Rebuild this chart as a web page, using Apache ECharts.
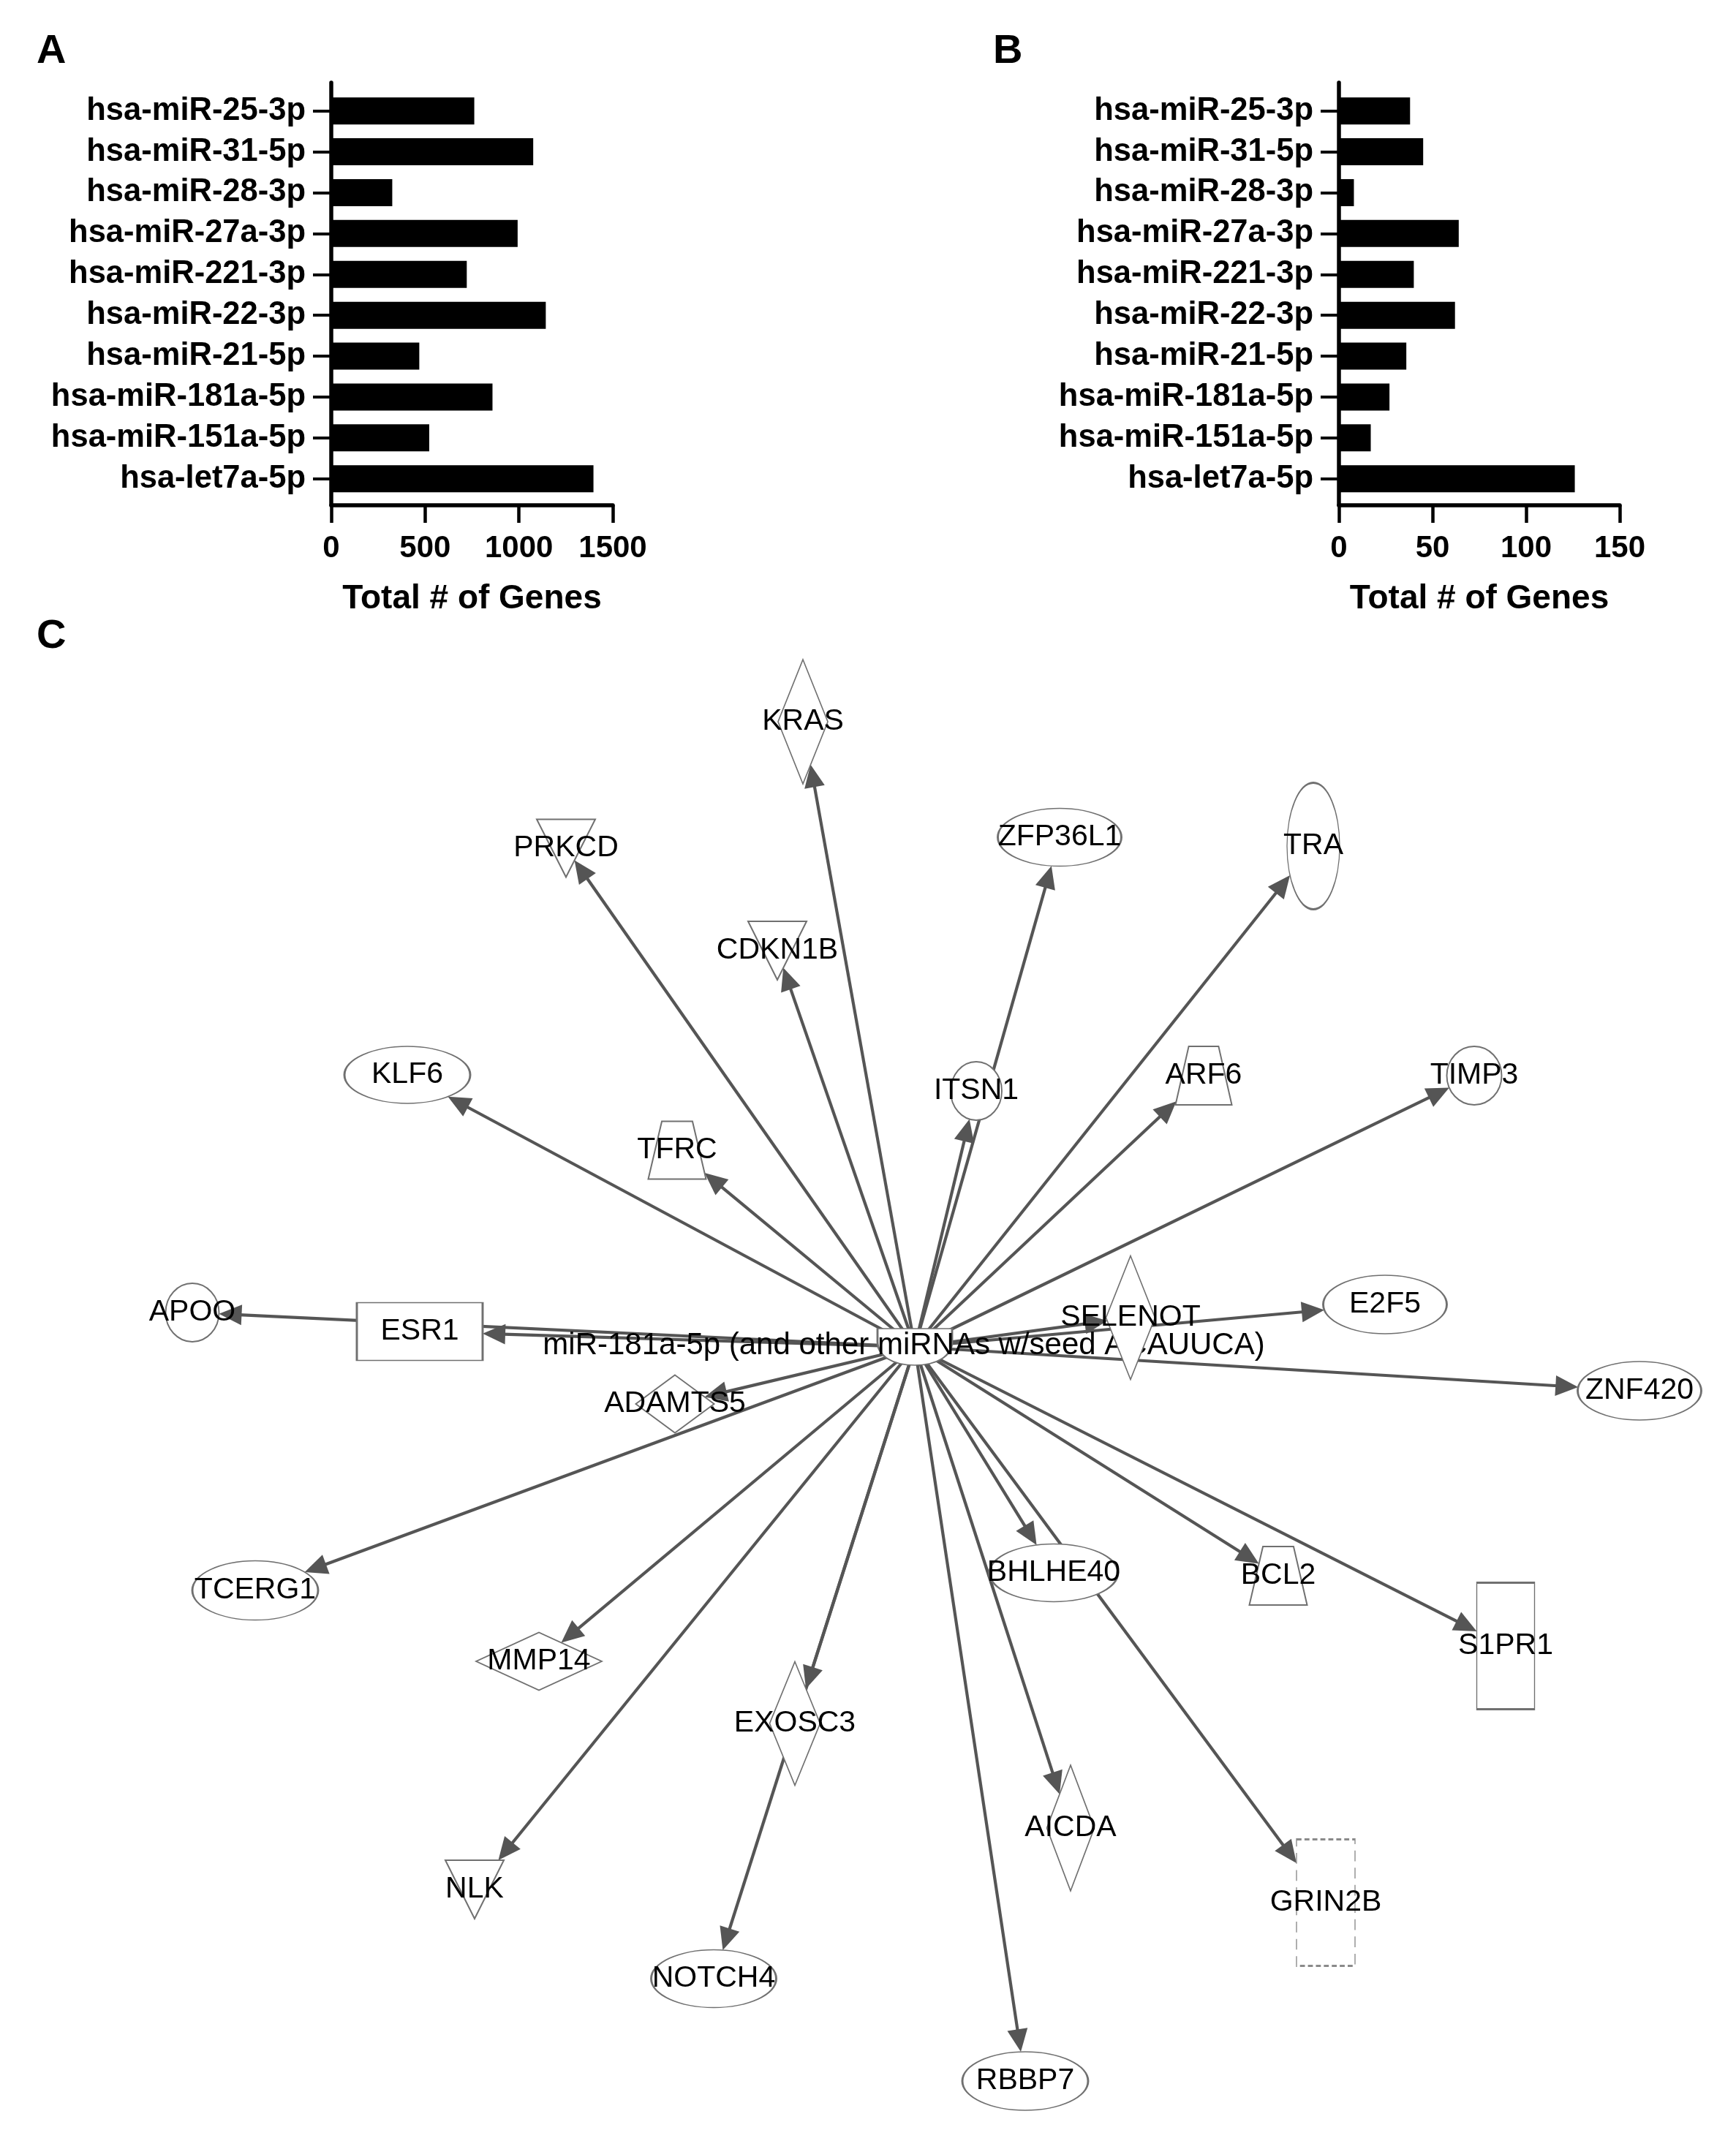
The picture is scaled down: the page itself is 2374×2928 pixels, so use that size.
<!DOCTYPE html>
<html><head><meta charset="utf-8">
<script src="https://cdn.jsdelivr.net/npm/echarts@6/dist/echarts.min.js"></script>
<style>html,body{margin:0;padding:0;background:#fff}#c{width:2374px;height:2928px}</style>
</head><body><div id="c"></div>
<script>
// ---------- Data: panels A & B ----------
const categories = ['hsa-miR-25-3p','hsa-miR-31-5p','hsa-miR-28-3p','hsa-miR-27a-3p','hsa-miR-221-3p','hsa-miR-22-3p','hsa-miR-21-5p','hsa-miR-181a-5p','hsa-miR-151a-5p','hsa-let7a-5p'];
const genesA = [762, 1076, 325, 993, 722, 1143, 469, 859, 522, 1397];
const genesB = [38, 45, 8, 64, 40, 62, 36, 27, 17, 126];
const axisA = {min: 0, max: 1500, interval: 500};
const axisB = {min: 0, max: 150, interval: 50};
const axisTitle = 'Total # of Genes';
const panelLetters = ['A', 'B', 'C'];

// ---------- Data: panel C network (layout coordinates) ----------
const hubName = 'miR-181a-5p (and other miRNAs w/seed ACAUUCA)';
const nodeNames = [hubName,'KRAS','PRKCD','CDKN1B','ZFP36L1','TRA','ITSN1','ARF6','TIMP3','KLF6','TFRC','APOO','ESR1','ADAMTS5','SELENOT','E2F5','ZNF420','TCERG1','MMP14','EXOSC3','NLK','NOTCH4','BHLHE40','BCL2','S1PR1','AICDA','GRIN2B','RBBP7'];
const nodeX = [1251,1098,774,1063,1449,1796,1335,1646,2016,557,926,263,574,923,1546,1894,2242,349,737,1087,649,976,1441,1748,2059,1464,1813,1402];
const nodeY = [1842,987,1160,1300,1145,1157,1492,1471,1471,1470,1573,1795,1821,1920,1802,1784,1902,2175,2272,2357,2584,2706,2151,2155,2251,2500,2602,2846];
const edgeSource = hubName;
const edgeTargets = nodeNames.slice(1);

// ---------- Styles for nodes ----------
const nodeShapes = ['mirna','diamond','triDown','triDown','ellipse','ellipse','ellipse','trap','ellipse','ellipse','trap','ellipse','rect','diamond','diamond','ellipse','ellipse','ellipse','diamond','diamond','triDown','ellipse','ellipse','trap','rect','diamond','dashRect','ellipse'];
const nodeSizes = [[102,50],[68,170],[80,79],[80,80],[169,79],[72,173],[70,80],[77,80],[75,80],[172,78],[79,79],[73,80],[172,79],[107,79],[67,169],[169,80],[169,80],[172,81],[172,79],[69,169],[80,80],[171,79],[176,79],[79,80],[79,173],[65,172],[80,173],[172,80]];

const FONT = "'Liberation Sans', Arial, Helvetica, sans-serif";
const EDGE = '#555555';
const symbolPaths = {
  ellipse: 'path://M0,50C0,22.4,22.4,0,50,0C77.6,0,100,22.4,100,50C100,77.6,77.6,100,50,100C22.4,100,0,77.6,0,50Z',
  diamond: 'diamond',
  triDown: 'path://M0,0L100,0L50,100Z',
  trap: 'path://M23.5,0L76.5,0L100,100L0,100Z',
  rect: 'rect',
  dashRect: 'rect',
  mirna: 'path://M0,0L100,0L100,35C100,75,80,100,50,100C20,100,0,75,0,35Z'
};
function polyFor(shape, a, b) {
  if (shape === 'diamond') return [[0,-b],[a,0],[0,b],[-a,0]];
  if (shape === 'triDown') return [[-a,-b],[a,-b],[0,b]];
  if (shape === 'trap') return [[-0.53*a,-b],[0.53*a,-b],[a,b],[-a,b]];
  return [[-a,-b],[a,-b],[a,b],[-a,b]];
}
function boundaryT(shape, w, h, dx, dy) {
  const a = w/2, b = h/2;
  if (shape === 'ellipse') return 1/Math.sqrt((dx/a)*(dx/a) + (dy/b)*(dy/b));
  const poly = polyFor(shape, a, b);
  let best = Infinity;
  for (let k = 0; k < poly.length; k++) {
    const A = poly[k], B = poly[(k+1) % poly.length];
    const ex = B[0]-A[0], ey = B[1]-A[1];
    const den = dx*ey - dy*ex;
    if (Math.abs(den) < 1e-9) continue;
    const t = (A[0]*ey - A[1]*ex)/den;
    const s = (A[0]*dy - A[1]*dx)/den;
    if (t > 0 && s >= -1e-6 && s <= 1+1e-6) best = Math.min(best, t);
  }
  return best;
}

const hubIdx = nodeNames.indexOf(edgeSource);
const edgeData = edgeTargets.map(n => {
  const i = nodeNames.indexOf(n);
  return [nodeX[i], nodeY[i], nodeX[hubIdx], nodeY[hubIdx], i];
});
const nodeData = nodeNames.map((n, i) => ({
  name: n,
  value: [nodeX[i], nodeY[i]],
  symbol: symbolPaths[nodeShapes[i]],
  symbolSize: nodeSizes[i],
  itemStyle: nodeShapes[i] === 'dashRect' ? {borderType: [10, 6], borderColor: '#8a8a8a'} : undefined
}));

const boldLabel = {fontFamily: FONT, fontWeight: 'bold', color: '#000'};
function frameX(gi, ax) {
  return {gridIndex: gi, type: 'value', min: ax.min, max: ax.max, interval: ax.interval,
    axisLine: {show: true, onZero: false, lineStyle: {color: '#000', width: 5.5}},
    axisTick: {show: true, inside: false, length: 24, lineStyle: {color: '#000', width: 4.5}},
    axisLabel: Object.assign({fontSize: 42, margin: 38, formatter: v => String(v)}, boldLabel),
    splitLine: {show: false},
    name: axisTitle, nameLocation: 'middle', nameGap: 105,
    nameTextStyle: Object.assign({fontSize: 46}, boldLabel)};
}
function frameY(gi) {
  return {gridIndex: gi, type: 'value', min: 0, max: 1,
    axisLine: {show: true, onZero: false, lineStyle: {color: '#000', width: 5.5}},
    axisTick: {show: false}, axisLabel: {show: false}, splitLine: {show: false}};
}
function barX(gi, ax) { return {gridIndex: gi, type: 'value', min: ax.min, max: ax.max, show: false}; }
function barY(gi) {
  return {gridIndex: gi, type: 'category', data: categories, inverse: true,
    axisLine: {show: false},
    axisTick: {show: true, alignWithLabel: true, inside: false, length: 25, lineStyle: {color: '#000', width: 4}},
    axisLabel: Object.assign({fontSize: 43.5, margin: 35, interval: 0}, boldLabel),
    splitLine: {show: false}};
}

const option = {
  backgroundColor: '#fff',
  animation: false,
  title: [
    {text: panelLetters[0], left: 50, top: 43, padding: 0, textStyle: {fontSize: 56, fontWeight: 'bold', fontFamily: FONT, color: '#000'}},
    {text: panelLetters[1], left: 1358, top: 43, padding: 0, textStyle: {fontSize: 56, fontWeight: 'bold', fontFamily: FONT, color: '#000'}},
    {text: panelLetters[2], left: 50, top: 843, padding: 0, textStyle: {fontSize: 56, fontWeight: 'bold', fontFamily: FONT, color: '#000'}}
  ],
  grid: [
    {left: 453, top: 113, width: 385, height: 578, outerBoundsMode: 'none'},
    {left: 453, top: 123.7, width: 385, height: 559, outerBoundsMode: 'none'},
    {left: 1831, top: 113, width: 384, height: 578, outerBoundsMode: 'none'},
    {left: 1831, top: 123.7, width: 384, height: 559, outerBoundsMode: 'none'},
    {left: 0, top: 0, width: 2374, height: 2928, outerBoundsMode: 'none'}
  ],
  xAxis: [frameX(0, axisA), barX(1, axisA), frameX(2, axisB), barX(3, axisB),
    {gridIndex: 4, type: 'value', min: 0, max: 2374, show: false}],
  yAxis: [frameY(0), barY(1), frameY(2), barY(3),
    {gridIndex: 4, type: 'value', min: 0, max: 2928, inverse: true, show: false}],
  series: [
    {type: 'bar', xAxisIndex: 1, yAxisIndex: 1, data: genesA, barWidth: 37, itemStyle: {color: '#000'}, silent: true},
    {type: 'bar', xAxisIndex: 3, yAxisIndex: 3, data: genesB, barWidth: 37, itemStyle: {color: '#000'}, silent: true},
    {
      type: 'custom', xAxisIndex: 4, yAxisIndex: 4, z: 2, silent: true, clip: false,
      encode: {x: [0, 2], y: [1, 3]},
      data: edgeData,
      renderItem: function (params, api) {
        const ti = api.value(4);
        const p = api.coord([api.value(0), api.value(1)]);
        const hb = api.coord([api.value(2), api.value(3)]);
        let dx = hb[0] - p[0], dy = hb[1] - p[1];
        const len = Math.hypot(dx, dy); dx /= len; dy /= len;
        const sz = nodeSizes[ti];
        const t = boundaryT(nodeShapes[ti], sz[0], sz[1], dx, dy);
        const tip = [p[0] + dx*t, p[1] + dy*t];
        const L = 31, W = 28;
        const base = [tip[0] + dx*L, tip[1] + dy*L];
        const nx = -dy, ny = dx;
        return {type: 'group', children: [
          {type: 'line', shape: {x1: hb[0], y1: hb[1], x2: tip[0] + dx*(L-3), y2: tip[1] + dy*(L-3)},
           style: {stroke: EDGE, lineWidth: 4.2}},
          {type: 'polygon', shape: {points: [tip, [base[0] + nx*W/2, base[1] + ny*W/2], [base[0] - nx*W/2, base[1] - ny*W/2]]},
           style: {fill: EDGE}}
        ]};
      }
    },
    {
      type: 'scatter', xAxisIndex: 4, yAxisIndex: 4, z: 3, silent: true,
      data: nodeData.slice(0, 1),
      itemStyle: {color: '#fff', borderColor: '#707070', borderWidth: 2, opacity: 1},
      label: {show: true, position: 'inside', formatter: '{b}', offset: [-15, -2], fontSize: 42, fontFamily: FONT, color: '#000'}
    },
    {
      type: 'scatter', xAxisIndex: 4, yAxisIndex: 4, z: 4, silent: true,
      data: nodeData.slice(1),
      itemStyle: {color: '#fff', borderColor: '#707070', borderWidth: 2, opacity: 1},
      label: {show: true, position: 'inside', formatter: '{b}', fontSize: 41, fontFamily: FONT, color: '#000'}
    }
  ]
};
const chart = echarts.init(document.getElementById('c'), null, {renderer: 'canvas', width: 2374, height: 2928});
chart.setOption(option);
</script></body></html>
